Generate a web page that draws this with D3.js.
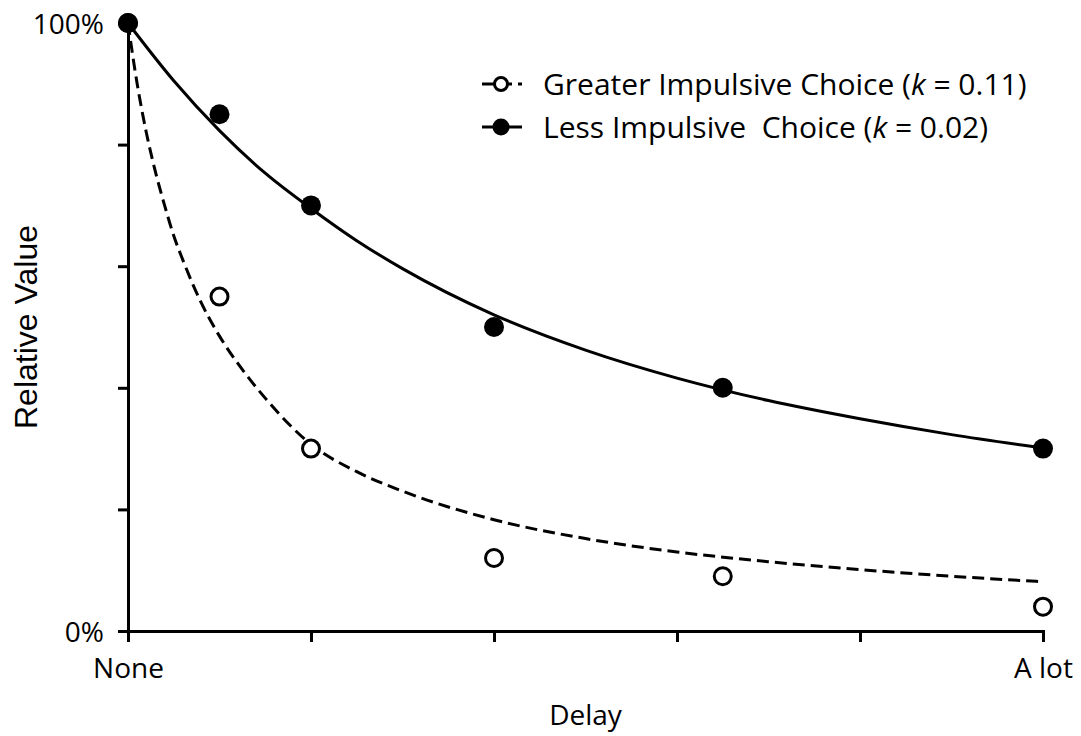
<!DOCTYPE html>
<html>
<head>
<meta charset="utf-8">
<script src="https://cdn.jsdelivr.net/npm/d3@7"></script>
<style>
  body { margin: 0; background: #fff; }
  text { font-family: "Open Sans", sans-serif; fill: #000; }
</style>
</head>
<body>
<svg id="chart" width="1081" height="736"></svg>
<script>
// observed points (delay on a 0-100 scale, value in %)
const delays = [0, 10, 20, 40, 65, 100];
const greaterValues = [100, 55, 30, 12, 9, 4];
const lessValues = [100, 85, 70, 50, 40, 30];

// fitted curves
const greaterFit = [[0, 100], [1, 90], [2, 82], [3, 75.5], [4, 70], [5, 65], [6, 61], [8, 54], [10, 48.5],
  [12.5, 43], [15, 38.3], [20, 30.7], [25, 26.2], [30, 23], [40, 18.3], [50, 15.2], [60, 13], [70, 11.4],
  [80, 10.1], [90, 9], [100, 8.1]];
const lessFit = [[0, 100], [5, 90.5], [10, 82.3], [15, 75.3], [20, 69.5], [25, 64.2], [30, 59.6], [40, 52],
  [50, 46.2], [60, 41.6], [70, 37.9], [80, 34.9], [90, 32.3], [100, 30.1]];

const xTicks = [0, 20, 40, 60, 80, 100];
const yTicks = [0, 20, 40, 60, 80, 100];
const xTickLabels = { 0: "None", 100: "A lot" };
const yTickLabels = { 0: "0%", 100: "100%" };

const svg = d3.select("#chart");

const x = d3.scaleLinear().domain([0, 100]).range([128, 1043]);
const y = d3.scaleLinear().domain([0, 100]).range([631, 23]);

// axes
const xAxis = svg.append("g")
  .attr("transform", `translate(0,${y(0)})`)
  .call(d3.axisBottom(x).tickValues(xTicks).tickSizeOuter(0).tickSize(11)
    .tickFormat(d => xTickLabels[d] || ""));

const yAxis = svg.append("g")
  .attr("transform", `translate(${x(0)},0)`)
  .call(d3.axisLeft(y).tickValues(yTicks).tickSizeOuter(0).tickSize(10).tickPadding(14)
    .tickFormat(d => yTickLabels[d] || ""));

svg.selectAll(".domain, .tick line").attr("stroke", "#000").attr("stroke-width", 3);
svg.selectAll(".tick text").attr("font-family", "Open Sans").attr("font-size", 28).attr("fill", "#000");
xAxis.selectAll(".tick text").attr("dy", "0.71em").attr("y", 27);
yAxis.selectAll(".tick text").attr("dy", "0.36em");

// axis titles
svg.append("text")
  .attr("x", x(50)).attr("y", 725)
  .attr("text-anchor", "middle").attr("font-size", 28)
  .text("Delay");

svg.append("text")
  .attr("transform", `translate(37,${y(50)}) rotate(-90)`)
  .attr("text-anchor", "middle")
  .style("font-family", "'Liberation Sans', Arial, sans-serif")
  .attr("font-size", 32)
  .text("Relative Value");

// fitted lines
const line = d3.line().x(d => x(d[0])).y(d => y(d[1])).curve(d3.curveMonotoneX);

svg.append("path").datum(greaterFit)
  .attr("d", line).attr("fill", "none").attr("stroke", "#000")
  .attr("stroke-width", 3).attr("stroke-dasharray", "12,6");

svg.append("path").datum(lessFit)
  .attr("d", line).attr("fill", "none").attr("stroke", "#000")
  .attr("stroke-width", 3);

// points
svg.append("g").selectAll("circle")
  .data(delays.map((d, i) => [d, greaterValues[i]]))
  .join("circle")
  .attr("cx", d => x(d[0])).attr("cy", d => y(d[1])).attr("r", 8.5)
  .attr("fill", "#fff").attr("stroke", "#000").attr("stroke-width", 3);

svg.append("g").selectAll("circle")
  .data(delays.map((d, i) => [d, lessValues[i]]))
  .join("circle")
  .attr("cx", d => x(d[0])).attr("cy", d => y(d[1])).attr("r", 10)
  .attr("fill", "#000");

// legend
const legend = svg.append("g");
const rows = [
  { dash: "12,6", open: true, label: "Greater Impulsive Choice (", k: "0.11", y: 84 },
  { dash: null, open: false, label: "Less Impulsive  Choice (", k: "0.02", y: 127 }
];
rows.forEach(r => {
  legend.append("line")
    .attr("x1", 482).attr("x2", 522).attr("y1", r.y).attr("y2", r.y)
    .attr("stroke", "#000").attr("stroke-width", 3)
    .attr("stroke-dasharray", r.dash);
  legend.append("circle")
    .attr("cx", 501).attr("cy", r.y).attr("r", r.open ? 6.5 : 8.5)
    .attr("fill", r.open ? "#fff" : "#000")
    .attr("stroke", "#000").attr("stroke-width", r.open ? 3 : 0);
  const t = legend.append("text")
    .attr("x", 543).attr("y", r.y + 11)
    .attr("font-size", 30)
    .style("white-space", "pre");
  t.append("tspan").text(r.label);
  t.append("tspan").attr("font-style", "italic").text("k");
  t.append("tspan").text(" = " + r.k + ")");
});
</script>
</body>
</html>
